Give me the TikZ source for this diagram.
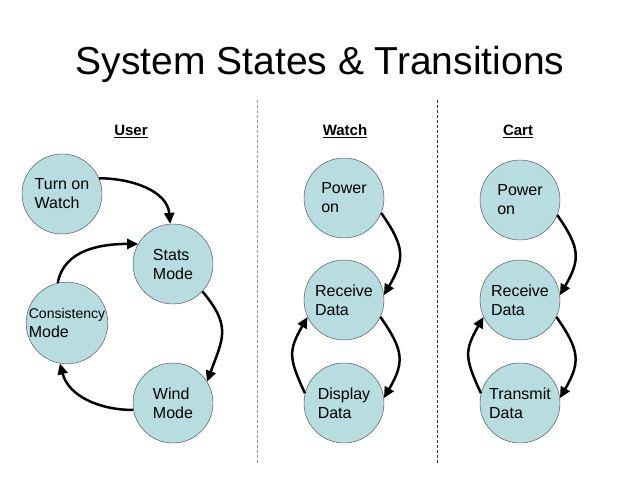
\documentclass[tikz,border=0pt]{standalone}
\usepackage{fontspec}
\setmainfont{Liberation Sans}
\usetikzlibrary{arrows.meta}
\definecolor{statefill}{RGB}{183,221,224}
\tikzset{
  stnode/.style={circle, draw=black!75, thin, fill=statefill, minimum size=80pt, inner sep=0pt, align=left, font=\fontsize{16}{19}\selectfont},
  trans/.style={line width=2.5pt, -{Triangle[length=11pt,width=10pt]}},
  colhead/.style={font=\fontsize{15}{17}\selectfont\bfseries, anchor=base},
  divider/.style={gray!80, densely dashed, line width=0.8pt}
}
\begin{document}
\begin{tikzpicture}[x=1pt,y=1pt]
  \useasboundingbox (0,0) rectangle (640,480);
  \node[anchor=base, font=\fontsize{39}{44}\selectfont] (title) at (320,405) {System States \& Transitions};
  % column headings and dividers
  \node[colhead] (huser) at (131,344) {\underline{User}};
  \node[colhead] (hwatch) at (345,344) {\underline{Watch}};
  \node[colhead] (hcart) at (518,344) {\underline{Cart}};
  \draw[divider] (257,380) -- (257,17);
  \draw[divider, black!80] (437,380) -- (437,17);
  % user states
  \node[stnode] (turn) at (62,286) {Turn on\\Watch};
  \node[stnode] (stats) at (173,216) {Stats\\Mode};
  \node[stnode] (cons) at (67,157) {{\fontsize{14}{19}\selectfont Consistency}\\Mode};
  \node[stnode] (wind) at (173,77) {Wind\\Mode};
  \draw[trans] (turn.23) to[out=0, in=95] (stats.94);
  \draw[trans] (cons.103) to[out=80, in=180] (stats.150);
  \draw[trans] (stats.-43) to[out=-50, in=70, looseness=1.3] (wind.32);
  \draw[trans] (wind.190) to[out=180, in=-75] (cons.-100);
  % watch states
  \node[stnode] (wpow) at (344,282) {Power\\on};
  \node[stnode] (wrec) at (344,180) {Receive\\Data};
  \node[stnode] (wdis) at (344,77) {Display\\Data};
  \draw[trans] (wpow.-22) to[out=-55, in=60, looseness=1.3] (wrec.7);
  \draw[trans] (wrec.-25) to[out=-55, in=60, looseness=1.3] (wdis.7);
  \draw[trans] (wdis.166) to[out=115, in=-120, looseness=1.3] (wrec.-155);
  % cart states
  \node[stnode] (cpow) at (520,280) {Power\\on};
  \node[stnode] (crec) at (520,180) {Receive\\Data};
  \node[stnode] (ctra) at (520,77) {Transmit\\Data};
  \draw[trans] (cpow.-22) to[out=-55, in=60, looseness=1.3] (crec.7);
  \draw[trans] (crec.-25) to[out=-55, in=60, looseness=1.3] (ctra.7);
  \draw[trans] (ctra.166) to[out=115, in=-120, looseness=1.3] (crec.-155);
\end{tikzpicture}
\end{document}
